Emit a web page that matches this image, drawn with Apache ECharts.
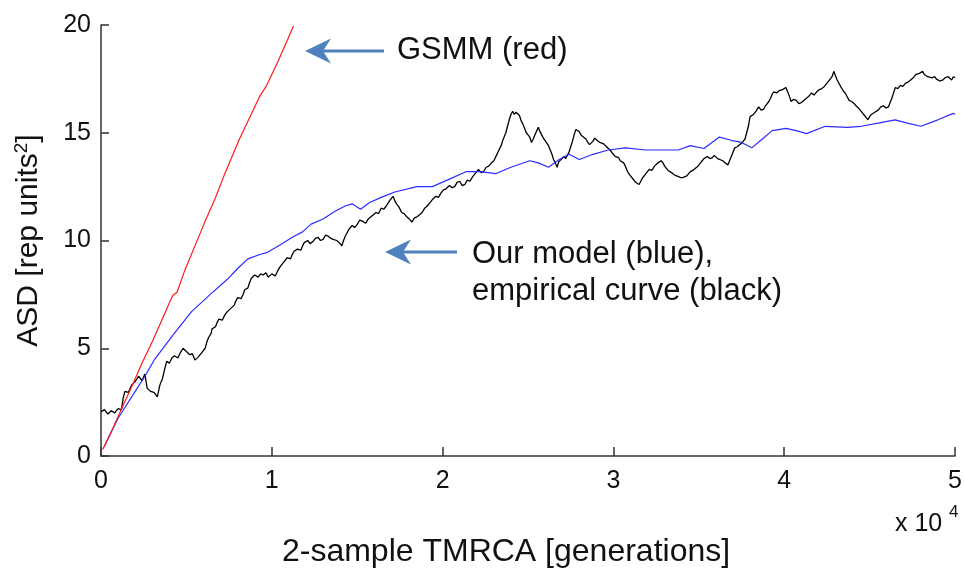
<!DOCTYPE html>
<html>
<head>
<meta charset="utf-8">
<title>ASD vs 2-sample TMRCA</title>
<script src="https://cdn.jsdelivr.net/npm/echarts@6/dist/echarts.min.js"></script>
<style>
  html, body { margin: 0; padding: 0; background: #fff; }
  #chart { width: 965px; height: 573px; }
</style>
</head>
<body>
<div id="chart"></div>
<script>
// x values are in units of 10^4 generations, y values in rep units^2
const xTicks = [0, 1, 2, 3, 4, 5];
const yTicks = [0, 5, 10, 15, 20];

// GSMM prediction (red)
const gsmm = [
  [0.01,0.3],[0.07,1.3],[0.13,2.35],[0.19,3.4],[0.245,4.4],[0.30,5.3],[0.35,6.2],
  [0.40,7.1],[0.42,7.45],[0.445,7.6],[0.49,8.6],[0.55,9.75],[0.61,10.9],[0.666,11.9],
  [0.72,13.0],[0.81,14.7],[0.87,15.7],[0.93,16.7],[0.97,17.2],[1.03,18.2],[1.08,19.1],[1.127,19.95]
];

// Our model (blue)
const model = [
  [0.02,0.45],[0.1,1.75],[0.2,3.0],[0.257,3.7],[0.315,4.5],[0.42,5.6],[0.53,6.7],[0.64,7.5],
  [0.74,8.2],[0.80,8.7],[0.86,9.15],[0.93,9.35],[0.975,9.45],[1.05,9.8],[1.13,10.2],[1.18,10.4],
  [1.23,10.76],[1.30,11.0],[1.37,11.36],[1.43,11.6],[1.47,11.7],[1.52,11.45],[1.57,11.75],[1.64,12.0],
  [1.72,12.25],[1.85,12.5],[1.94,12.5],[2.04,12.85],[2.14,13.2],[2.22,13.2],[2.31,13.1],[2.40,13.4],
  [2.51,13.7],[2.56,13.6],[2.62,13.4],[2.68,13.75],[2.74,14.0],[2.80,13.76],[2.88,14.0],[2.97,14.2],
  [3.07,14.3],[3.19,14.2],[3.30,14.2],[3.38,14.2],[3.45,14.4],[3.53,14.27],[3.62,14.8],[3.69,14.65],
  [3.75,14.55],[3.81,14.3],[3.87,14.7],[3.93,15.1],[4.01,15.2],[4.07,15.1],[4.13,14.96],[4.24,15.3],
  [4.37,15.25],[4.45,15.3],[4.55,15.45],[4.65,15.6],[4.72,15.45],[4.80,15.3],[4.90,15.6],[4.99,15.9],[5.0,15.85]
];

// Empirical curve (black)
const empirical = [
  [0.00,2.05],[0.02,2.15],[0.04,1.95],[0.06,2.1],[0.08,2.0],[0.10,2.2],[0.12,2.15],[0.13,2.7],[0.14,3.0],
  [0.16,2.95],[0.18,3.3],[0.20,3.45],[0.22,3.7],[0.24,3.5],[0.257,3.8],[0.27,3.15],[0.29,3.0],[0.31,2.95],
  [0.33,2.75],[0.345,3.3],[0.36,3.6],[0.375,4.1],[0.385,4.4],[0.40,4.3],[0.415,4.55],[0.43,4.65],[0.45,4.55],
  [0.465,4.8],[0.48,5.0],[0.50,4.85],[0.52,4.7],[0.535,4.75],[0.55,4.45],[0.57,4.6],[0.59,4.8],[0.61,5.0],
  [0.62,5.3],[0.63,5.5],[0.645,5.7],[0.65,5.9],[0.67,6.0],[0.68,6.2],[0.69,6.35],[0.71,6.3],[0.725,6.55],
  [0.74,6.7],[0.76,6.85],[0.78,7.0],[0.79,7.2],[0.80,7.35],[0.82,7.3],[0.835,7.55],[0.84,7.7],[0.86,7.8],
  [0.87,8.05],[0.88,8.25],[0.90,8.4],[0.92,8.3],[0.935,8.45],[0.95,8.4],[0.965,8.5],[0.98,8.3],[1.00,8.45],
  [1.02,8.35],[1.035,8.6],[1.05,8.8],[1.07,9.0],[1.09,9.2],[1.11,9.15],[1.12,9.35],[1.13,9.5],[1.15,9.6],
  [1.17,9.55],[1.18,9.75],[1.19,9.9],[1.21,10.0],[1.225,9.85],[1.24,9.95],[1.255,10.1],[1.27,10.15],
  [1.285,10.0],[1.30,10.05],[1.315,10.25],[1.33,10.2],[1.345,10.1],[1.36,10.05],[1.38,10.0],[1.395,9.9],
  [1.41,9.75],[1.42,10.0],[1.43,10.2],[1.45,10.5],[1.47,10.7],[1.485,10.6],[1.50,10.75],[1.515,10.95],
  [1.53,10.9],[1.55,10.8],[1.565,11.0],[1.58,11.1],[1.595,11.2],[1.61,11.3],[1.625,11.25],[1.64,11.5],
  [1.655,11.45],[1.67,11.6],[1.69,11.85],[1.71,12.05],[1.72,11.85],[1.73,11.7],[1.745,11.55],[1.76,11.3],
  [1.775,11.25],[1.79,11.1],[1.805,11.0],[1.82,10.85],[1.835,11.05],[1.85,11.1],[1.865,11.2],[1.88,11.3],
  [1.895,11.5],[1.91,11.6],[1.925,11.75],[1.94,11.9],[1.96,12.05],[1.975,12.0],[1.99,12.2],[2.005,12.35],
  [2.02,12.4],[2.04,12.55],[2.055,12.45],[2.07,12.5],[2.085,12.7],[2.10,12.75],[2.115,12.55],[2.13,12.6],
  [2.145,12.8],[2.16,12.75],[2.175,12.95],[2.19,13.1],[2.21,13.3],[2.225,13.15],[2.24,13.2],[2.255,13.4],
  [2.27,13.45],[2.285,13.6],[2.30,13.7],[2.315,13.95],[2.33,14.2],[2.345,14.45],[2.35,14.6],[2.37,15.0],
  [2.38,15.3],[2.39,15.6],[2.40,15.85],[2.41,16.0],[2.42,15.85],[2.43,15.95],[2.45,15.8],[2.46,15.55],
  [2.47,15.4],[2.49,15.0],[2.50,14.9],[2.51,14.8],[2.52,14.55],[2.53,14.7],[2.54,14.9],[2.56,15.25],
  [2.57,15.05],[2.58,15.0],[2.59,14.75],[2.60,14.7],[2.62,14.4],[2.63,14.2],[2.64,14.0],[2.65,13.75],
  [2.66,13.6],[2.67,13.4],[2.68,13.65],[2.69,13.7],[2.71,13.9],[2.72,13.8],[2.74,14.1],[2.75,14.35],
  [2.76,14.6],[2.77,14.9],[2.78,15.15],[2.80,15.05],[2.81,14.9],[2.82,14.95],[2.84,14.7],[2.85,14.55],
  [2.86,14.45],[2.88,14.6],[2.89,14.75],[2.90,14.7],[2.92,14.55],[2.93,14.6],[2.94,14.5],[2.96,14.35],
  [2.97,14.4],[2.98,14.2],[3.00,14.0],[3.01,13.9],[3.03,13.85],[3.04,13.7],[3.06,13.6],[3.07,13.45],
  [3.08,13.25],[3.09,13.1],[3.10,13.0],[3.11,12.9],[3.12,12.85],[3.13,12.7],[3.14,12.75],[3.15,12.6],
  [3.16,12.75],[3.17,12.9],[3.18,13.0],[3.19,13.1],[3.21,13.3],[3.225,13.25],[3.24,13.45],[3.25,13.5],
  [3.26,13.6],[3.27,13.55],[3.28,13.7],[3.29,13.6],[3.30,13.45],[3.31,13.35],[3.32,13.25],[3.34,13.15],
  [3.355,13.05],[3.37,13.0],[3.385,12.95],[3.40,12.9],[3.415,12.95],[3.43,13.0],[3.44,13.05],[3.45,13.2],
  [3.465,13.25],[3.48,13.35],[3.495,13.45],[3.51,13.6],[3.52,13.7],[3.53,13.8],[3.55,13.9],[3.565,13.8],
  [3.58,13.85],[3.59,13.95],[3.60,13.95],[3.61,13.8],[3.62,13.85],[3.64,13.7],[3.655,13.6],[3.67,13.5],
  [3.68,13.7],[3.69,13.9],[3.70,14.1],[3.71,14.3],[3.725,14.35],[3.74,14.45],[3.755,14.55],[3.77,14.7],
  [3.78,15.0],[3.79,15.3],[3.80,15.75],[3.81,15.7],[3.82,15.85],[3.835,16.0],[3.85,16.2],[3.865,16.05],
  [3.88,16.1],[3.89,16.25],[3.90,16.2],[3.91,16.45],[3.92,16.6],[3.93,16.8],[3.94,16.9],[3.955,16.85],
  [3.97,16.95],[3.98,16.9],[3.99,17.0],[4.00,16.95],[4.01,17.1],[4.02,16.9],[4.03,16.7],[4.04,16.45],
  [4.055,16.55],[4.07,16.5],[4.085,16.35],[4.10,16.4],[4.115,16.5],[4.13,16.6],[4.145,16.7],[4.16,16.85],
  [4.175,16.75],[4.19,16.9],[4.205,17.0],[4.22,17.05],[4.235,17.15],[4.25,17.3],[4.26,17.25],[4.27,17.5],
  [4.28,17.6],[4.29,17.85],[4.30,17.65],[4.31,17.45],[4.32,17.3],[4.33,17.15],[4.345,16.95],[4.36,16.8],
  [4.37,16.65],[4.38,16.5],[4.395,16.45],[4.41,16.35],[4.42,16.25],[4.43,16.2],[4.44,16.1],[4.45,16.05],
  [4.46,15.9],[4.47,15.8],[4.48,15.7],[4.49,15.6],[4.50,15.75],[4.51,15.85],[4.52,15.8],[4.53,15.95],
  [4.54,16.0],[4.55,16.05],[4.565,16.2],[4.58,16.25],[4.595,16.15],[4.61,16.2],[4.62,16.4],[4.63,16.6],
  [4.64,16.85],[4.65,17.1],[4.665,17.05],[4.68,17.2],[4.695,17.15],[4.71,17.3],[4.725,17.35],[4.74,17.45],
  [4.755,17.55],[4.77,17.7],[4.78,17.65],[4.79,17.75],[4.80,17.8],[4.81,17.85],[4.82,17.7],[4.83,17.75],
  [4.84,17.6],[4.85,17.65],[4.865,17.55],[4.88,17.6],[4.89,17.5],[4.90,17.45],[4.91,17.4],[4.92,17.35],
  [4.93,17.45],[4.94,17.55],[4.95,17.5],[4.96,17.6],[4.97,17.55],[4.98,17.45],[4.99,17.6],[5.00,17.55]
];

const FONT = '"Liberation Sans", Arial, sans-serif';
const TEXT = '#111';
const AXIS = '#333';
const ARROW = '#4f81bd';

const chart = echarts.init(document.getElementById('chart'));

// notched arrow pointing left, tip at (x, y)
function arrow(x, y, shaftLen) {
  return [
    { type: 'line', shape: { x1: x + 14, y1: y, x2: x + shaftLen, y2: y },
      style: { stroke: ARROW, lineWidth: 3 } },
    { type: 'polygon', shape: { points: [[x, y], [x + 26, y - 12.5], [x + 18, y], [x + 26, y + 12.5]] },
      style: { fill: ARROW } }
  ];
}

chart.setOption({
  backgroundColor: '#fff',
  animation: false,
  grid: { left: 101, right: 8, top: 25, bottom: 115, containLabel: false },
  xAxis: {
    type: 'value', min: xTicks[0], max: xTicks[xTicks.length - 1], interval: 1,
    name: '2-sample TMRCA [generations]',
    nameLocation: 'middle', nameGap: 80,
    nameTextStyle: { fontFamily: FONT, fontSize: 32, color: TEXT, padding: [0, 44, 0, 0] },
    axisLine: { show: true, lineStyle: { color: AXIS, width: 1.5 } },
    axisTick: { show: true, inside: true, length: 9, lineStyle: { color: AXIS, width: 1.5 } },
    axisLabel: { fontFamily: FONT, fontSize: 25, color: TEXT, margin: 13 },
    splitLine: { show: false }
  },
  yAxis: {
    type: 'value', min: yTicks[0], max: yTicks[yTicks.length - 1], interval: 5,
    name: 'ASD [rep units{sup|2}]',
    nameLocation: 'middle', nameGap: 56, nameRotate: 90,
    nameTextStyle: {
      fontFamily: FONT, fontSize: 30, color: TEXT,
      rich: { sup: { fontFamily: FONT, fontSize: 19, color: TEXT, verticalAlign: 'top', padding: [0, 0, 14, 0] } }
    },
    axisLine: { show: true, lineStyle: { color: AXIS, width: 1.5 } },
    axisTick: { show: true, inside: true, length: 8, lineStyle: { color: AXIS, width: 1.5 } },
    axisLabel: { fontFamily: FONT, fontSize: 25, color: TEXT, margin: 10 },
    splitLine: { show: false }
  },
  series: [
    { name: 'empirical', type: 'line', data: empirical, showSymbol: false, z: 2,
      lineStyle: { color: '#000', width: 1.3 } },
    { name: 'model', type: 'line', data: model, showSymbol: false, z: 3,
      lineStyle: { color: '#2b2bff', width: 1.2 } },
    { name: 'GSMM', type: 'line', data: gsmm, showSymbol: false, z: 4,
      lineStyle: { color: '#ff1a1a', width: 1.2 } }
  ],
  graphic: [
    ...arrow(305, 51, 79),
    ...arrow(385, 252, 72),
    { type: 'text', left: 397, top: 35,
      style: { text: 'GSMM (red)', font: '31px ' + FONT, fill: TEXT } },
    { type: 'text', left: 472, top: 236,
      style: { text: 'Our model (blue),\nempirical curve (black)', font: '31px ' + FONT, fill: TEXT, lineHeight: 37 } },
    { type: 'text', left: 895, top: 512,
      style: { text: 'x 10', font: '25px ' + FONT, fill: TEXT } },
    { type: 'text', left: 949, top: 504,
      style: { text: '4', font: '17px ' + FONT, fill: TEXT } }
  ]
});
</script>
</body>
</html>
